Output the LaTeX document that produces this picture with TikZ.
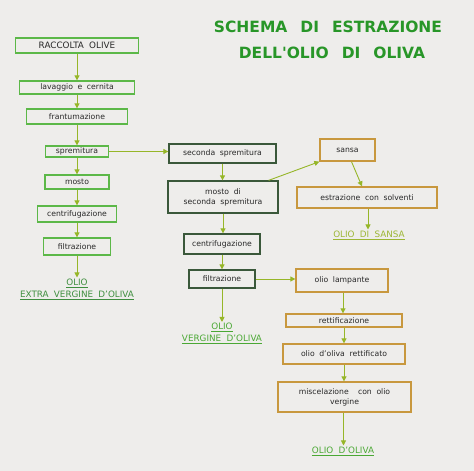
\documentclass[tikz,border=0pt]{standalone}
\usepackage{fontspec}
\setmainfont{DejaVu Sans}
\usetikzlibrary{arrows.meta,calc}
\definecolor{bgc}{RGB}{238,237,235}
\definecolor{lgreen}{RGB}{92,184,72}
\definecolor{dgreen}{RGB}{58,88,58}
\definecolor{orng}{RGB}{200,152,62}
\definecolor{arrc}{RGB}{150,182,40}
\definecolor{txt}{RGB}{40,40,40}
\definecolor{ttl}{RGB}{40,150,40}
\definecolor{lab}{RGB}{62,142,62}
\definecolor{labb}{RGB}{74,168,52}
\definecolor{laby}{RGB}{156,182,52}
\tikzset{
  box/.style={draw, line width=1.3pt, inner sep=0pt, align=center, text=txt,
    font=\fontsize{7.7}{9.8}\selectfont},
  lbox/.style={box, draw=lgreen},
  dbox/.style={box, draw=dgreen},
  obox/.style={box, draw=orng},
  arr/.style={draw=arrc, line width=0.9pt, -{Triangle[length=5pt,width=5pt]}, arrc},
  label/.style={inner sep=1pt, align=center, font=\fontsize{8.8}{12}\selectfont},
  title/.style={inner sep=0pt, text=ttl, font=\fontsize{15.5}{18}\selectfont\bfseries}
}
\newcommand{\ws}{\hspace{0.6em}}
\begin{document}
\begin{tikzpicture}[x=1pt,y=-1pt]
\fill[bgc] (0,0) rectangle (474,471);
\useasboundingbox (0,0) rectangle (474,471);

% title
\node[title] (t1) at (328,27) {SCHEMA\hspace{13pt}DI\hspace{13pt}ESTRAZIONE};
\node[title] (t2) at (332,53) {DELL\textquotesingle OLIO\hspace{13pt}DI\hspace{13pt}OLIVA};

% left column
\node[lbox, minimum width=123pt, minimum height=15pt, font=\fontsize{8.8}{10}\selectfont] (racc) at (77,45.5) {RACCOLTA\ws OLIVE};
\node[lbox, minimum width=115pt, minimum height=13pt] (lav) at (77,87.5) {lavaggio\ws e\ws cernita};
\node[lbox, minimum width=101pt, minimum height=15pt] (fran) at (77,116.5) {frantumazione};
\node[lbox, minimum width=63pt, minimum height=11pt] (sprem) at (77,151.5) {spremitura};
\node[lbox, minimum width=64pt, minimum height=14pt] (most) at (77,182) {mosto};
\node[lbox, minimum width=79pt, minimum height=16pt] (cen) at (77,214) {centrifugazione};
\node[lbox, minimum width=67pt, minimum height=17pt] (fil) at (77,246.5) {filtrazione};
\node[label, text=lab] (oev) at (77,289) {\underline{OLIO}\\\underline{EXTRA\ws VERGINE\ws D'OLIVA}};

% middle column
\node[dbox, minimum width=107pt, minimum height=19pt] (sec) at (222.5,153.5) {seconda\ws spremitura};
\node[dbox, minimum width=110pt, minimum height=32pt] (most2) at (223,197) {mosto\ws di\\seconda\ws spremitura};
\node[dbox, minimum width=76pt, minimum height=20pt] (cen2) at (222,244) {centrifugazione};
\node[dbox, minimum width=66pt, minimum height=18pt] (fil2) at (222,279) {filtrazione};
\node[label, text=labb] (ov) at (222,333.5) {\underline{OLIO}\\\underline{VERGINE\ws D'OLIVA}};

% right column
\node[obox, minimum width=55pt, minimum height=22pt] (sansa) at (347.5,150) {sansa};
\node[obox, minimum width=140pt, minimum height=21pt] (estr) at (367,197.5) {estrazione\ws con\ws solventi};
\node[label, text=laby] (ods) at (369,235) {\underline{OLIO\ws DI\ws SANSA}};
\node[obox, minimum width=92pt, minimum height=23pt] (lamp) at (342,280.5) {olio\ws lampante};
\node[obox, minimum width=116pt, minimum height=13pt] (rett) at (344,320.5) {rettificazione};
\node[obox, minimum width=122pt, minimum height=20pt] (orett) at (344,354) {olio\ws d'oliva\ws rettificato};
\node[obox, minimum width=133pt, minimum height=30pt] (misc) at (344.5,397) {miscelazione\ws\ws con\ws olio\\vergine};
\node[label, text=labb] (odo) at (343,451) {\underline{OLIO\ws D'OLIVA}};

% arrows left
\draw[arr] (racc.south) -- (racc.south |- lav.north);
\draw[arr] (lav.south) -- (lav.south |- fran.north);
\draw[arr] (fran.south) -- (fran.south |- sprem.north);
\draw[arr] (sprem.south) -- (sprem.south |- most.north);
\draw[arr] (most.south) -- (most.south |- cen.north);
\draw[arr] (cen.south) -- (cen.south |- fil.north);
\draw[arr] (fil.south) -- (fil.south |- oev.north);
\draw[arr] (sprem.east) -- (sprem.east -| sec.west);

% arrows middle
\draw[arr] (sec.south) -- (sec.south |- most2.north);
\draw[arr] (most2.south) -- (most2.south |- cen2.north);
\draw[arr] (cen2.south) -- (cen2.south |- fil2.north);
\draw[arr] (fil2.south) -- (fil2.south |- ov.north);
\draw[arr] (fil2.east) -- (fil2.east -| lamp.west);
\draw[arr] ($(most2.north east)+(-10,0)$) coordinate (m2a) -- (sansa.south west);

% arrows right
\draw[arr] ($(sansa.south)+(4,0)$) coordinate (sa) -- ($(estr.north)+(-5,0)$) coordinate (ea);
\draw[arr] ($(estr.south)+(1,0)$) coordinate (eb) -- (eb |- ods.north);
\draw[arr] ($(lamp.south)+(1,0)$) coordinate (la) -- (la |- rett.north);
\draw[arr] (rett.south) -- (rett.south |- orett.north);
\draw[arr] (orett.south) -- (orett.south |- misc.north);
\draw[arr] ($(misc.south)+(-1,0)$) coordinate (ma) -- (ma |- odo.north);
\end{tikzpicture}
\end{document}
